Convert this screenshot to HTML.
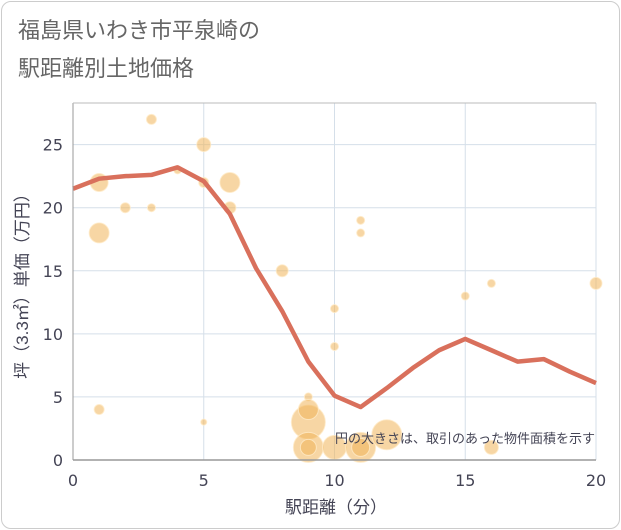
<!DOCTYPE html>
<html><head><meta charset="utf-8"><style>
body{margin:0;background:#fff;font-family:"Liberation Sans","Noto Sans CJK JP",sans-serif;}
#frame{position:absolute;left:1px;top:1px;width:617px;height:526px;border:1px solid #ccc;border-radius:10px;}
</style></head><body>
<div id="frame"></div>
<svg width="621" height="530" style="position:absolute;left:0;top:0">
<text x="18" y="38" font-size="22" fill="#666" font-family="Liberation Sans,Noto Sans CJK JP,sans-serif">福島県いわき市平泉崎の</text>
<text x="18" y="76" font-size="22" fill="#666" font-family="Liberation Sans,Noto Sans CJK JP,sans-serif">駅距離別土地価格</text>
<g id="grid"></g><g id="bubbles"></g><g id="line"></g><g id="axes"></g>
<text x="595" y="443" font-size="13" fill="#445" text-anchor="end" font-family="Liberation Sans,Noto Sans CJK JP,sans-serif">円の大きさは、取引のあった物件面積を示す</text>
<text x="336" y="513" font-size="17" fill="#445" text-anchor="middle" font-family="Liberation Sans,Noto Sans CJK JP,sans-serif">駅距離（分）</text>
<text transform="translate(28,282) rotate(-90)" font-size="17" fill="#445" text-anchor="middle" font-family="Liberation Sans,Noto Sans CJK JP,sans-serif">坪（3.3㎡）単価（万円）</text>
</svg>
<script>
const xTicks=[0,5,10,15,20];
const yTicks=[0,5,10,15,20,25];
const lineX=[0,1,2,3,4,5,6,7,8,9,10,11,12,13,14,15,16,17,18,19,20];
const lineY=[21.5,22.3,22.5,22.6,23.2,22.1,19.5,15.2,11.8,7.8,5.1,4.2,5.7,7.3,8.7,9.6,8.7,7.8,8.0,7.0,6.1];
const bubX=[1,1,1,2,3,3,4,5,5,5,6,6,8,9,9,9,9,9,10,10,10,11,11,11,11,12,15,16,16,20];
const bubY=[22,18,4,20,27,20,23,25,22,3,22,20,15,5,3,1,4,1,12,9,1,19,18,1,1,2,13,14,1,14];
const bubR=[9,10,5,5,5,4,4,7,5,3,10,6,6,4,17,15,10,8,4,4,12,4,4,15,9,15,4,4,7,6];
const L=73,R=596,T=103,B=460;
const sx=v=>L+(R-L)*v/20, sy=v=>B-(B-T)*v/28.3;
const NS='http://www.w3.org/2000/svg';
function mk(t,a,p){const e=document.createElementNS(NS,t);for(const k in a)e.setAttribute(k,a[k]);p.appendChild(e);return e;}
const g=document.getElementById('grid');
xTicks.forEach(v=>{const l=mk('line',{x1:sx(v),x2:sx(v),y1:T,y2:B,stroke:'#d5dfe9','stroke-width':1},g);


const t=mk('text',{x:sx(v),y:B+26,'font-size':16,fill:'#445','text-anchor':'middle','font-family':'DejaVu Sans,sans-serif'},g);t.textContent=v;

});
yTicks.forEach(v=>{const l=mk('line',{x1:L,x2:R,y1:sy(v),y2:sy(v),stroke:'#d5dfe9','stroke-width':1},g);


const t=mk('text',{x:L-10,y:sy(v)+6,'font-size':16,fill:'#445','text-anchor':'end','font-family':'DejaVu Sans,sans-serif'},g);t.textContent=v;

});
const bg=document.getElementById('bubbles');
bubX.forEach((x,i)=>{const c=mk('circle',{cx:sx(x),cy:sy(bubY[i]),r:bubR[i],fill:'rgba(240,180,90,0.55)',stroke:'rgba(255,235,200,0.8)','stroke-width':1},bg);

});
const lp=mk('polyline',{points:lineX.map((x,i)=>sx(x)+','+sy(lineY[i])).join(' '),fill:'none',stroke:'#d9705c','stroke-width':4.5,'stroke-linejoin':'round'},document.getElementById('line'));


const ax=document.getElementById('axes');
const a1=mk('line',{x1:L,x2:L,y1:T,y2:B,stroke:'#999','stroke-width':1},ax);


const a2=mk('line',{x1:L,x2:R,y1:B,y2:B,stroke:'#999','stroke-width':1.5},ax);


const a3=mk('line',{x1:L,x2:R,y1:T,y2:T,stroke:'#bbb','stroke-width':1},ax);


</script>
</body></html>
